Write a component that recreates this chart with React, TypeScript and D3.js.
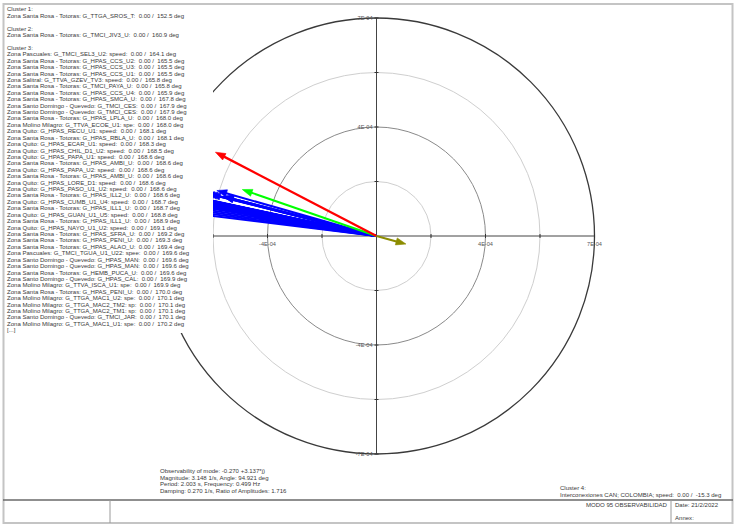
import React from 'react';
import * as d3 from 'd3';

// cluster 1..4 phasors (magnitude, angle in deg)
const cluster1Names = ['Zona Santa Rosa - Totoras: G_TTGA_SROS_T:'];
const cluster1Angles = [152.5];
const cluster1Mags = [5.83e-4];

const cluster2Names = ['Zona Santa Rosa - Totoras: G_TMCI_JIV3_U:'];
const cluster2Angles = [160.9];
const cluster2Mags = [4.56e-4];

const cluster3Names = [
  'Zona Pascuales: G_TMCI_SEL3_U2: speed:',
  'Zona Santa Rosa - Totoras: G_HPAS_CCS_U2:',
  'Zona Santa Rosa - Totoras: G_HPAS_CCS_U3:',
  'Zona Santa Rosa - Totoras: G_HPAS_CCS_U1:',
  'Zona Salitral: G_TTVA_GZEV_TV3: speed:',
  'Zona Santa Rosa - Totoras: G_TMCI_PAYA_U:',
  'Zona Santa Rosa - Totoras: G_HPAS_CCS_U4:',
  'Zona Santa Rosa - Totoras: G_HPAS_SMCA_U:',
  'Zona Santo Domingo - Quevedo: G_TMCI_CES:',
  'Zona Santo Domingo - Quevedo: G_TMCI_CES:',
  'Zona Santa Rosa - Totoras: G_HPAS_LPLA_U:',
  'Zona Molino Milagro: G_TTVA_ECOE_U1: spe:',
  'Zona Quito: G_HPAS_RECU_U1: speed:',
  'Zona Santa Rosa - Totoras: G_HPAS_RBLA_U:',
  'Zona Quito: G_HPAS_ECAR_U1: speed:',
  'Zona Quito: G_HPAS_CHIL_D1_U2: speed:',
  'Zona Quito: G_HPAS_PAPA_U1: speed:',
  'Zona Santa Rosa - Totoras: G_HPAS_AMBI_U:',
  'Zona Quito: G_HPAS_PAPA_U2: speed:',
  'Zona Santa Rosa - Totoras: G_HPAS_AMBI_U:',
  'Zona Quito: G_HPAS_LORE_D1: speed:',
  'Zona Quito: G_HPAS_PASO_U1_U2: speed:',
  'Zona Santa Rosa - Totoras: G_HPAS_ILL2_U:',
  'Zona Quito: G_HPAS_CUMB_U1_U4: speed:',
  'Zona Santa Rosa - Totoras: G_HPAS_ILL1_U:',
  'Zona Quito: G_HPAS_GUAN_U1_U5: speed:',
  'Zona Santa Rosa - Totoras: G_HPAS_ILL1_U:',
  'Zona Quito: G_HPAS_NAYO_U1_U2: speed:',
  'Zona Santa Rosa - Totoras: G_HPAS_SFRA_U:',
  'Zona Santa Rosa - Totoras: G_HPAS_PENI_U:',
  'Zona Santa Rosa - Totoras: G_HPAS_ALAO_U:',
  'Zona Pascuales: G_TMCI_TGUA_U1_U22: spee:',
  'Zona Santo Domingo - Quevedo: G_HPAS_MAN:',
  'Zona Santo Domingo - Quevedo: G_HPAS_MAN:',
  'Zona Santa Rosa - Totoras: G_HEMB_PUCA_U:',
  'Zona Santo Domingo - Quevedo: G_HPAS_CAL:',
  'Zona Molino Milagro: G_TTVA_ISCA_U1: spe:',
  'Zona Santa Rosa - Totoras: G_HPAS_PENI_U:',
  'Zona Molino Milagro: G_TTGA_MAC1_U2: spe:',
  'Zona Molino Milagro: G_TTGA_MAC2_TM2: sp:',
  'Zona Molino Milagro: G_TTGA_MAC2_TM1: sp:',
  'Zona Santo Domingo - Quevedo: G_TMCI_JAR:',
  'Zona Molino Milagro: G_TTGA_MAC1_U1: spe:',
];
const cluster3Angles = [
  164.1, 165.5, 165.5, 165.5, 165.8, 165.8, 165.9, 167.8, 167.9, 167.9,
  168.0, 168.0, 168.1, 168.1, 168.3, 168.5, 168.6, 168.6, 168.6, 168.6,
  168.6, 168.6, 168.6, 168.7, 168.7, 168.8, 168.9, 169.1, 169.2, 169.3,
  169.4, 169.6, 169.6, 169.6, 169.6, 169.9, 169.9, 170.0, 170.1, 170.1,
  170.1, 170.1, 170.2,
];
const cluster3Mags = [
  5.33e-4, 5.07e-4, 5.07e-4, 5.1e-4, 5.5e-4, 5.6e-4, 5.7e-4, 6.0e-4, 6.1e-4, 6.1e-4,
  6.2e-4, 6.0e-4, 6.3e-4, 6.2e-4, 6.1e-4, 6.4e-4, 6.3e-4, 6.2e-4, 6.3e-4, 6.2e-4,
  6.1e-4, 6.4e-4, 6.2e-4, 6.3e-4, 6.2e-4, 6.4e-4, 6.2e-4, 6.3e-4, 6.1e-4, 6.2e-4,
  6.3e-4, 6.4e-4, 6.2e-4, 6.2e-4, 6.1e-4, 6.3e-4, 6.2e-4, 6.2e-4, 6.3e-4, 6.3e-4,
  6.3e-4, 6.2e-4, 6.4e-4,
];
// members behind "[...]" (not listed, read from the drawn wedge)
const cluster3HiddenAngles = [170.6, 171.2, 171.8, 172.4, 173.0];
const cluster3HiddenMags = [6.2e-4, 6.3e-4, 6.2e-4, 6.3e-4, 6.2e-4];

const cluster4Names = ['Interconexiones CAN; COLOMBIA; speed:'];
const cluster4Angles = [-15.3];
const cluster4Mags = [0.98e-4];

const ringValues = [1.75e-4, 3.5e-4, 5.25e-4, 7e-4];
const ringLabels = ['', '4E-04', '', '7E-04'];

const modeInfo = [
  'Observability of mode: -0.270 +3.137*j)',
  'Magnitude: 3.148 1/s,  Angle: 94.921 deg',
  'Period: 2.003 s,  Frequency: 0.499 Hz',
  'Damping: 0.270 1/s,  Ratio of Amplitudes: 1.716',
];

const W = 736, H = 526;
const cx = 376.5, cy = 236;
const font = 'Liberation Sans, Arial, sans-serif';
const panelRight = 213, panelBottom = 333;
const sp = '\u00a0\u00a0';

const r = d3.scaleLinear().domain([0, 7e-4]).range([0, 218]);

function Arrow({ mag, ang, color, width = 2 }: { mag: number; ang: number; color: string; width?: number }) {
  const a = (ang * Math.PI) / 180;
  const len = r(mag);
  const ux = Math.cos(a), uy = -Math.sin(a);
  const tx = cx + ux * len, ty = cy + uy * len;
  const hl = 10, hw = 3.6;
  const bx = tx - ux * hl, by = ty - uy * hl;
  const px = -uy, py = ux;
  const head = `M${tx},${ty}L${bx + px * hw},${by + py * hw}L${bx - px * hw},${by - py * hw}Z`;
  return (
    <g>
      <line x1={cx} y1={cy} x2={bx + ux * 2} y2={by + uy * 2} stroke={color} strokeWidth={width} />
      <path d={head} fill={color} stroke={color} strokeWidth={0.6} />
    </g>
  );
}

export default function App() {
  const fmt = (name: string, ang: number) => `${name}${sp}0.00 /${sp}${ang.toFixed(1)} deg`;
  const panelLines: string[] = [
    'Cluster 1:',
    ...cluster1Names.map((n, i) => fmt(n, cluster1Angles[i])),
    '',
    'Cluster 2:',
    ...cluster2Names.map((n, i) => fmt(n, cluster2Angles[i])),
    '',
    'Cluster 3:',
    ...cluster3Names.map((n, i) => fmt(n, cluster3Angles[i])),
    '[...]',
  ];
  const lineY = (i: number) => 9.3 + 6.42 * i + 2;
  const ringColor = ['#cfcfcf', '#8a8a8a', '#cfcfcf', '#3a3a3a'];
  const ringWidth = [1, 1, 1, 1.3];
  const rMax = r(7e-4);

  return (
    <svg width={W} height={H} style={{ position: 'absolute', left: 0, top: 0, background: '#fff' }}>
      <rect width={W} height={H} fill="#fff" />
      {/* rings */}
      {ringValues.map((v, i) => (
        <circle key={i} cx={cx} cy={cy} r={r(v)} fill="none" stroke={ringColor[i]} strokeWidth={ringWidth[i]} />
      ))}
      {/* axes */}
      <line x1={cx - rMax} y1={cy} x2={cx + rMax} y2={cy} stroke="#444" strokeWidth={1} />
      <line x1={cx} y1={cy - rMax} x2={cx} y2={cy + rMax} stroke="#444" strokeWidth={1} />
      {ringValues.map((v, i) => (
        <g key={'t' + i} stroke="#333" strokeWidth={1}>
          <line x1={cx + r(v)} y1={cy - 2} x2={cx + r(v)} y2={cy + 2} />
          <line x1={cx - r(v)} y1={cy - 2} x2={cx - r(v)} y2={cy + 2} />
          <line x1={cx - 2} y1={cy - r(v)} x2={cx + 2} y2={cy - r(v)} />
          <line x1={cx - 2} y1={cy + r(v)} x2={cx + 2} y2={cy + r(v)} />
        </g>
      ))}
      <g fontFamily={font} fontSize={5.6} fill="#555">
        {ringValues.map((v, i) =>
          ringLabels[i] ? (
            <g key={'l' + i}>
              <text x={cx + r(v)} y={cy + 10} textAnchor="middle">{ringLabels[i]}</text>
              {cx - r(v) > panelRight + 10 ? (
                <text x={cx - r(v)} y={cy + 10} textAnchor="middle">-{ringLabels[i]}</text>
              ) : null}
              <text x={cx - 4} y={cy - r(v) + 2} textAnchor="end">{ringLabels[i]}</text>
              <text x={cx - 4} y={cy + r(v) + 2} textAnchor="end">-{ringLabels[i]}</text>
            </g>
          ) : null
        )}
      </g>
      {/* phasors */}
      {cluster3HiddenAngles.map((a, i) => (
        <Arrow key={'h' + i} ang={a} mag={cluster3HiddenMags[i]} color="#0000ff" />
      ))}
      {cluster3Angles.map((a, i) => (
        <Arrow key={'b' + i} ang={a} mag={cluster3Mags[i]} color="#0000ff" />
      )).reverse()}
      {cluster2Angles.map((a, i) => (
        <Arrow key={'g' + i} ang={a} mag={cluster2Mags[i]} color="#00ff00" />
      ))}
      {cluster1Angles.map((a, i) => (
        <Arrow key={'r' + i} ang={a} mag={cluster1Mags[i]} color="#ff0000" width={2.4} />
      ))}
      {cluster4Angles.map((a, i) => (
        <Arrow key={'o' + i} ang={a} mag={cluster4Mags[i]} color="#8c8c00" />
      ))}

      {/* legend panel */}
      <rect x={0} y={0} width={panelRight} height={panelBottom} fill="#fff" />
      <g fontFamily={font} fontSize={6.05} fill="#3a3a3a">
        {panelLines.map((t, i) => (t ? <text key={i} x={7} y={lineY(i)}>{t}</text> : null))}
      </g>

      {/* mode info */}
      <g fontFamily={font} fontSize={6.05} fill="#3a3a3a">
        {modeInfo.map((t, i) => (
          <text key={i} x={160} y={471 + 6.5 * i + 2}>{t}</text>
        ))}
        <text x={560} y={490}>Cluster 4:</text>
        {cluster4Names.map((n, i) => (
          <text key={'c4' + i} x={560} y={496.5}>{fmt(n, cluster4Angles[i])}</text>
        ))}
      </g>

      {/* frame and title block */}
      <rect x={3.5} y={4} width={729} height={519} fill="none" stroke="#c4c4c4" strokeWidth={2} />
      <line x1={3} y1={500} x2={733} y2={500} stroke="#6a6a6a" strokeWidth={1.5} />
      <line x1={110} y1={500} x2={110} y2={523} stroke="#9a9a9a" strokeWidth={1} />
      <line x1={671} y1={500} x2={671} y2={523} stroke="#9a9a9a" strokeWidth={1} />
      <g fontFamily={font} fontSize={6.05} fill="#3a3a3a">
        <text x={667} y={506.5} textAnchor="end">MODO 95 OBSERVABILIDAD</text>
        <text x={675} y={506.5}>Date: 21/2/2022</text>
        <text x={675} y={520}>Annex:</text>
      </g>
    </svg>
  );
}
